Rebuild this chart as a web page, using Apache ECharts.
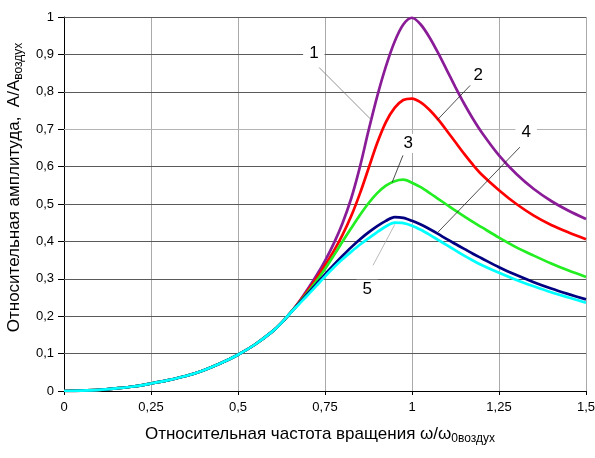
<!DOCTYPE html>
<html><head><meta charset="utf-8">
<script src="https://cdn.jsdelivr.net/npm/echarts@6/dist/echarts.min.js"></script>
<style>html,body{margin:0;padding:0;background:#fff}#c{width:595px;height:458px}</style>
</head><body><div id="c"></div>
<script>
const xValues = [0,0.05,0.1,0.15,0.2,0.25,0.3,0.35,0.4,0.45,0.5,0.55,0.6,
  0.625,0.65,0.675,0.7,0.725,0.75,0.775,0.8,0.825,0.85,0.875,0.9,0.925,0.95,0.975,1.0,1.025,1.05,1.075,1.1,1.125,1.15,1.175,1.2,
  1.25,1.3,1.35,1.4,1.45,1.5];
const lowPart = [0,0.001,0.003,0.007,0.012,0.02,0.029,0.04,0.055,0.074,0.097,0.125,0.16,0.182,0.208];
const curve1 = lowPart.concat([0.238,0.272,0.308,0.348,0.394,0.448,0.514,0.598,0.696,0.788,0.868,0.934,0.98,0.998,0.98,0.946,0.904,0.858,0.812,0.768,0.728,0.692,0.63,0.58,0.54,0.508,0.482,0.46]);
const curve2 = lowPart.concat([0.237,0.268,0.301,0.336,0.374,0.417,0.467,0.527,0.595,0.663,0.719,0.757,0.778,0.782,0.772,0.752,0.726,0.696,0.665,0.634,0.605,0.579,0.537,0.5,0.469,0.444,0.424,0.406]);
const curve3 = lowPart.concat([0.235,0.263,0.293,0.326,0.362,0.399,0.435,0.47,0.502,0.529,0.549,0.561,0.565,0.557,0.545,0.53,0.514,0.498,0.482,0.467,0.452,0.438,0.41,0.384,0.362,0.341,0.322,0.305]);
const curve4 = lowPart.concat([0.234,0.26,0.286,0.312,0.337,0.361,0.384,0.405,0.424,0.441,0.455,0.465,0.463,0.455,0.445,0.433,0.42,0.406,0.393,0.38,0.367,0.355,0.331,0.31,0.291,0.274,0.259,0.245]);
const curve5 = lowPart.concat([0.232,0.256,0.281,0.306,0.33,0.352,0.372,0.391,0.408,0.425,0.44,0.45,0.449,0.442,0.431,0.418,0.404,0.39,0.376,0.362,0.349,0.337,0.316,0.297,0.28,0.264,0.25,0.236]);
const curveNames = ['1','2','3','4','5'];
const curveColors = ['#8a1c98','#ff0000','#22ee22','#000080','#00ffff'];
const yTicks = [0,0.1,0.2,0.3,0.4,0.5,0.6,0.7,0.8,0.9,1];
const xTicks = [0,0.25,0.5,0.75,1,1.25,1.5];
// annotation labels (data coords): label position, leader start, leader end
const annLabels = ['1','2','3','4','5'];
const annPos = [[0.718,0.903],[1.190,0.844],[0.989,0.662],[1.328,0.692],[0.871,0.272]];
const annFrom = [[0.733,0.865],[1.167,0.817],[0.974,0.630],[1.310,0.652],[0.888,0.336]];
const annTo = [[0.882,0.726],[1.072,0.724],[0.943,0.558],[1.075,0.425],[0.951,0.446]];

const fmt = v => String(v).replace('.', ',');
const FONT = 'Liberation Sans, Arial, sans-serif';
const chart = echarts.init(document.getElementById('c'), null, {renderer:'canvas'});
const allCurves = [curve1,curve2,curve3,curve4,curve5];
const series = allCurves.map((c,i)=>({
  name:curveNames[i],type:'line',smooth:0.3,showSymbol:false,symbol:'none',
  data:xValues.map((x,j)=>[x,c[j]]),
  lineStyle:{color:curveColors[i],width:2.7},z:5+i
}));
// horizontal gridlines
series.push({type:'line',data:[],silent:true,z:1,
  markLine:{silent:true,symbol:'none',animation:false,label:{show:false},
    data:yTicks.filter(v=>v>0).map(v=>({yAxis:v,lineStyle:{type:'solid',width:1,color:Math.abs(v-0.7)<1e-9?'#b4b4b4':'#5a5a5a'}}))}});
chart.setOption({
  animation:false,
  backgroundColor:'#fff',
  grid:{left:64,right:9,top:17,bottom:67,outerBoundsMode:'none',containLabel:false},
  xAxis:{type:'value',min:0,max:1.5,interval:0.25,
    axisLine:{show:true,onZero:false,lineStyle:{color:'#000',width:1}},
    axisTick:{show:true,length:4,lineStyle:{color:'#000'}},
    axisLabel:{formatter:fmt,color:'#000',fontSize:13,fontFamily:FONT,margin:10},
    splitLine:{show:true,lineStyle:{color:'#aaaaaa',width:1}},
    name:'{m|Относительная частота вращения ω/ω}{s|0воздух}',
    nameLocation:'middle',nameGap:35,
    nameTextStyle:{padding:[0,10,0,0],rich:{m:{fontSize:17,fontFamily:FONT,color:'#000',verticalAlign:'top',lineHeight:19},
                         s:{fontSize:12,fontFamily:FONT,color:'#000',verticalAlign:'bottom',lineHeight:13,padding:[9,0,0,0]}}}
  },
  yAxis:{type:'value',min:0,max:1,interval:0.1,
    axisLine:{show:true,lineStyle:{color:'#000',width:1}},
    axisTick:{show:true,length:6,lineStyle:{color:'#000'}},
    axisLabel:{formatter:fmt,color:'#000',fontSize:13,fontFamily:FONT,margin:10},
    splitLine:{show:false},
    name:'{m|Относительная амплитуда,  A/A}{s|воздух}',
    nameLocation:'middle',nameGap:38,nameRotate:90,
    nameTextStyle:{padding:[0,0,0,33],rich:{m:{fontSize:17,fontFamily:FONT,color:'#000',verticalAlign:'top',lineHeight:19},
                         s:{fontSize:12,fontFamily:FONT,color:'#000',verticalAlign:'bottom',lineHeight:13,padding:[9,0,0,0]}}}
  },
  series: series
});
const gfx = [];
annLabels.forEach((t,i)=>{
  const a = chart.convertToPixel({gridIndex:0}, annFrom[i]);
  const b = chart.convertToPixel({gridIndex:0}, annTo[i]);
  const p = chart.convertToPixel({gridIndex:0}, annPos[i]);
  gfx.push({type:'line',shape:{x1:a[0],y1:a[1],x2:b[0],y2:b[1]},style:{stroke:i===4?'#aaaaaa':(i===0?'#777':'#222'),lineWidth:0.8},z:100});
  gfx.push({type:'text',x:p[0],y:p[1],style:{text:t,font:'17px '+FONT,fill:'#000',align:'center',verticalAlign:'middle',backgroundColor:'#fff',padding:[1,6,1,6]},z:101});
});
chart.setOption({graphic:gfx});
</script></body></html>
